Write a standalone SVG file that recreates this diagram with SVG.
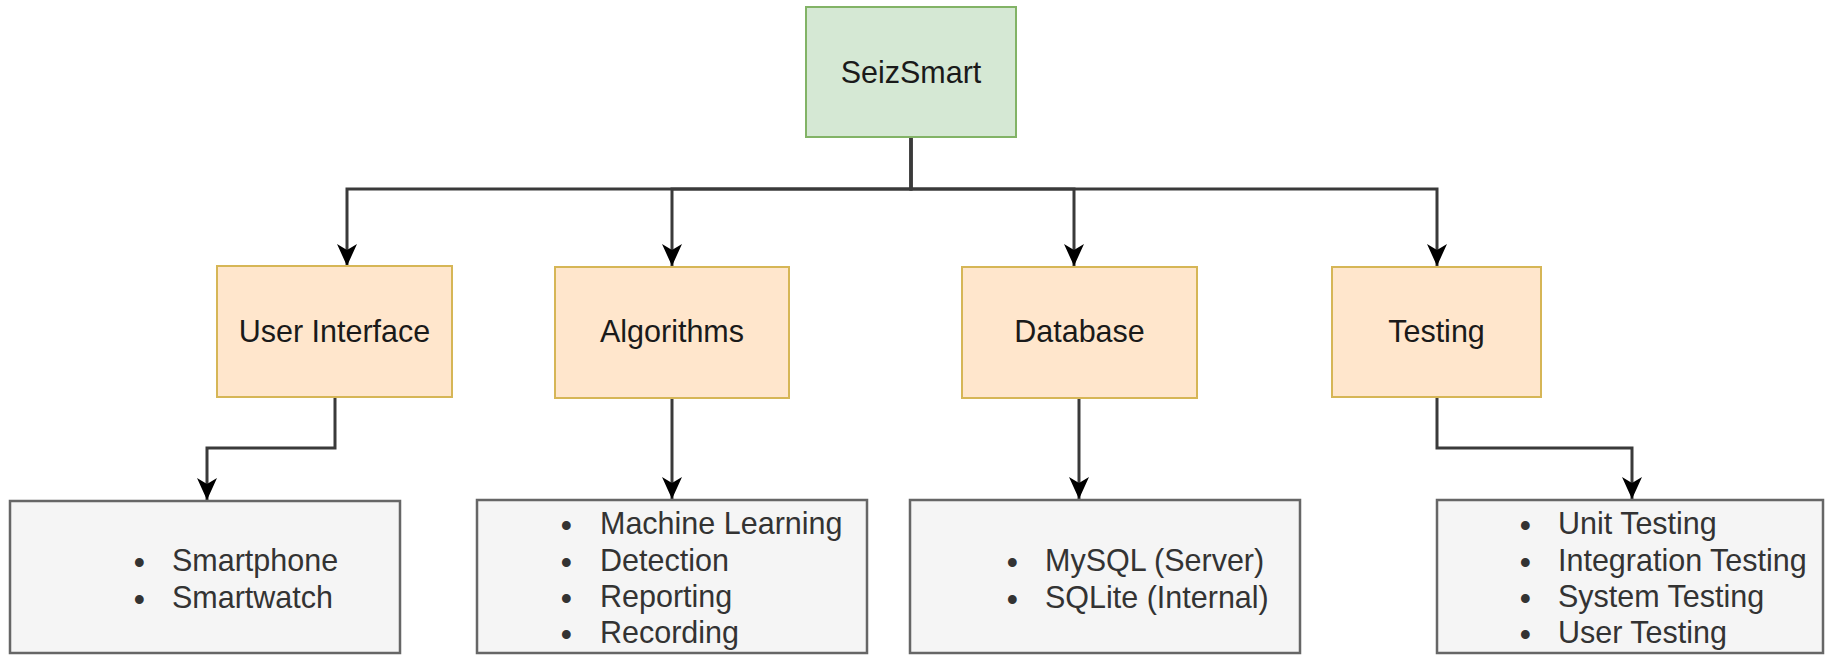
<svg xmlns="http://www.w3.org/2000/svg" width="1825" height="655" viewBox="0 0 1825 655">
  <style>
    .green { fill: #d5e8d4; stroke: #82b366; stroke-width: 2; }
    .orange { fill: #ffe6cc; stroke: #d6b656; stroke-width: 2; }
    .gray { fill: #f5f5f5; stroke: #666666; stroke-width: 2.5; }
    .title { font-family: "Liberation Sans", Arial, sans-serif; font-size: 30.5px; fill: #1a1a1a; text-anchor: middle; }
    .item { font-family: "Liberation Sans", Arial, sans-serif; font-size: 30.5px; fill: #333333; }
    .b { font-weight: bold; }
    .edge { fill: none; stroke: #3a3a3a; stroke-width: 3; }
  </style>
  <defs>
    <marker id="arrow" markerUnits="userSpaceOnUse" markerWidth="24" markerHeight="22" viewBox="0 0 24 22" refX="22" refY="11" orient="auto">
      <path d="M0,1 L22,11 L0,21 L6,11 Z" fill="#000000"/>
    </marker>
  </defs>
  <rect width="1825" height="655" fill="#ffffff"/>

  <g id="connectors">
    <path class="edge" d="M911,137 V189 H347 V266" marker-end="url(#arrow)"/>
    <path class="edge" d="M911,137 V189 H672 V266" marker-end="url(#arrow)"/>
    <path class="edge" d="M911,137 V189 H1074 V266" marker-end="url(#arrow)"/>
    <path class="edge" d="M911,137 V189 H1437 V266" marker-end="url(#arrow)"/>
    <path class="edge" d="M335,397 V448 H207 V500" marker-end="url(#arrow)"/>
    <path class="edge" d="M672,398 V499" marker-end="url(#arrow)"/>
    <path class="edge" d="M1079,398 V499" marker-end="url(#arrow)"/>
    <path class="edge" d="M1437,397 V448 H1632 V499" marker-end="url(#arrow)"/>
  </g>

  <g id="seizsmart">
    <rect class="green" x="806" y="7" width="210" height="130"/>
    <text class="title" x="911" y="83">SeizSmart</text>
  </g>

  <g id="user-interface">
    <rect class="orange" x="217" y="266" width="235" height="131"/>
    <text class="title" x="334.5" y="342">User Interface</text>
  </g>

  <g id="algorithms">
    <rect class="orange" x="555" y="267" width="234" height="131"/>
    <text class="title" x="672" y="342">Algorithms</text>
  </g>

  <g id="database">
    <rect class="orange" x="962" y="267" width="235" height="131"/>
    <text class="title" x="1079.5" y="342">Database</text>
  </g>

  <g id="testing">
    <rect class="orange" x="1332" y="267" width="209" height="130"/>
    <text class="title" x="1436.5" y="342">Testing</text>
  </g>

  <g id="ui-list">
    <rect class="gray" x="10" y="501" width="390" height="152"/>
    <text class="item" y="571"><tspan class="b" x="134" dy="2">•</tspan><tspan x="172" dy="-2">Smartphone</tspan></text>
    <text class="item" y="608"><tspan class="b" x="134" dy="2">•</tspan><tspan x="172" dy="-2">Smartwatch</tspan></text>
  </g>

  <g id="algorithms-list">
    <rect class="gray" x="477" y="500" width="390" height="153"/>
    <text class="item" y="534"><tspan class="b" x="561" dy="2">•</tspan><tspan x="600" dy="-2">Machine Learning</tspan></text>
    <text class="item" y="571"><tspan class="b" x="561" dy="2">•</tspan><tspan x="600" dy="-2">Detection</tspan></text>
    <text class="item" y="607"><tspan class="b" x="561" dy="2">•</tspan><tspan x="600" dy="-2">Reporting</tspan></text>
    <text class="item" y="643"><tspan class="b" x="561" dy="2">•</tspan><tspan x="600" dy="-2">Recording</tspan></text>
  </g>

  <g id="database-list">
    <rect class="gray" x="910" y="500" width="390" height="153"/>
    <text class="item" y="571"><tspan class="b" x="1007" dy="2">•</tspan><tspan x="1045" dy="-2">MySQL (Server)</tspan></text>
    <text class="item" y="608"><tspan class="b" x="1007" dy="2">•</tspan><tspan x="1045" dy="-2">SQLite (Internal)</tspan></text>
  </g>

  <g id="testing-list">
    <rect class="gray" x="1437" y="500" width="386" height="153"/>
    <text class="item" y="534"><tspan class="b" x="1520" dy="2">•</tspan><tspan x="1558" dy="-2">Unit Testing</tspan></text>
    <text class="item" y="571"><tspan class="b" x="1520" dy="2">•</tspan><tspan x="1558" dy="-2">Integration Testing</tspan></text>
    <text class="item" y="607"><tspan class="b" x="1520" dy="2">•</tspan><tspan x="1558" dy="-2">System Testing</tspan></text>
    <text class="item" y="643"><tspan class="b" x="1520" dy="2">•</tspan><tspan x="1558" dy="-2">User Testing</tspan></text>
  </g>
</svg>
